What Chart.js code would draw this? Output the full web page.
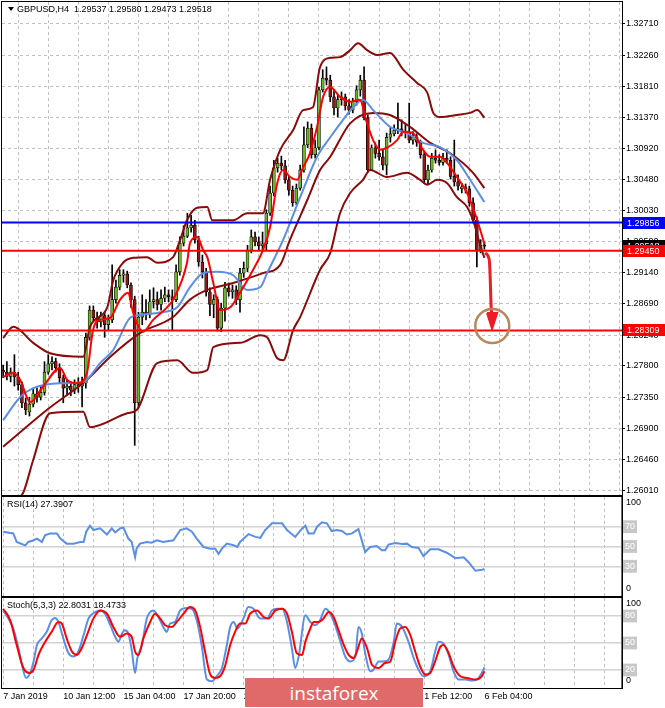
<!DOCTYPE html>
<html>
<head>
<meta charset="utf-8">
<script src="https://cdn.jsdelivr.net/npm/chart.js@4.4.1/dist/chart.umd.min.js"></script>
<style>
    html, body { margin: 0; padding: 0; background: #fff; }
    #wrap { position: relative; width: 665px; height: 708px; overflow: hidden; }
    canvas { position: absolute; left: 0; }
    #mark {
        position: absolute; left: 245px; top: 678px; width: 178px; height: 29px;
        background: #e06a6a; color: #fff; font: 19px 'Open Sans', sans-serif;
        display: flex; align-items: center; justify-content: center;
    }
</style>
</head>
<body>
<div id="wrap">
    <canvas id="priceChart" width="665" height="496" style="top:0"></canvas>
    <canvas id="rsiChart" width="665" height="101" style="top:496px"></canvas>
    <canvas id="stochChart" width="665" height="111" style="top:597px"></canvas>
    <div id="mark">instaforex</div>
</div>
<script>
// Velas H4 (indice 0 = 7 Jan 20:00, indice 128 = 6 Feb 04:00)
var open = [1.2774,1.2771,1.2765,1.2771,1.2764,1.2753,1.2727,1.2714,1.2725,1.2740,
    1.2735,1.2742,1.2771,1.2783,1.2786,1.2777,1.2763,1.2748,1.2751,1.2745,
    1.2753,1.2751,1.2755,1.2821,1.2860,1.2849,1.2843,1.2852,1.2839,1.2846,
    1.2875,1.2893,1.2910,1.2912,1.2896,1.2875,1.2727,1.2850,1.2857,1.2853,
    1.2872,1.2875,1.2868,1.2877,1.2882,1.2879,1.2875,1.2915,1.2956,1.2966,
    1.2978,1.2982,1.2961,1.2929,1.2915,1.2886,1.2868,1.2875,1.2834,1.2863,
    1.2892,1.2886,1.2889,1.2875,1.2913,1.2920,1.2946,1.2965,1.2958,1.2952,
    1.2955,1.2999,1.3028,1.3064,1.3071,1.3067,1.3047,1.3032,1.3014,1.3035,
    1.3061,1.3097,1.3121,1.3083,1.3093,1.3176,1.3193,1.3190,1.3166,1.3150,
    1.3162,1.3166,1.3153,1.3147,1.3159,1.3176,1.3190,1.3136,1.3061,1.3093,
    1.3085,1.3080,1.3068,1.3108,1.3113,1.3118,1.3120,1.3117,1.3114,1.3104,
    1.3108,1.3101,1.3083,1.3047,1.3061,1.3078,1.3075,1.3072,1.3078,1.3075,
    1.3052,1.3044,1.3034,1.3037,1.3034,1.3014,1.2989,1.2946,1.29537];
var high = [1.2781,1.2786,1.2777,1.2796,1.2771,1.2757,1.2734,1.2735,1.2748,1.2748,
    1.2751,1.2786,1.2796,1.2793,1.2791,1.2783,1.2767,1.2760,1.2757,1.2760,
    1.2763,1.2764,1.2827,1.2866,1.2866,1.2857,1.2857,1.2857,1.2853,1.2925,
    1.2903,1.2918,1.2918,1.2916,1.2899,1.2880,1.2857,1.2882,1.2875,1.2889,
    1.2892,1.2886,1.2889,1.2893,1.2889,1.2889,1.2925,1.2965,1.2981,1.2999,
    1.2996,1.2989,1.2966,1.2939,1.2920,1.2892,1.2882,1.2879,1.2870,1.2900,
    1.2899,1.2896,1.2895,1.2920,1.2929,1.2953,1.2975,1.2972,1.2965,1.2972,
    1.3004,1.3038,1.3075,1.3078,1.3081,1.3075,1.3052,1.3038,1.3041,1.3068,
    1.3123,1.3130,1.3127,1.3104,1.3180,1.3205,1.3209,1.3197,1.3176,1.3169,
    1.3173,1.3170,1.3162,1.3164,1.3182,1.3197,1.3209,1.3140,1.3097,1.3100,
    1.3104,1.3090,1.3114,1.3121,1.3126,1.3157,1.3133,1.3127,1.3157,1.3116,
    1.3113,1.3104,1.3087,1.3068,1.3085,1.3090,1.3083,1.3085,1.3090,1.3080,
    1.3104,1.3054,1.3042,1.3041,1.3038,1.3021,1.2994,1.2961,1.29580];
var low = [1.2763,1.2760,1.2757,1.2751,1.2745,1.2720,1.2710,1.2708,1.2721,1.2728,
    1.2731,1.2738,1.2768,1.2774,1.2771,1.2755,1.2727,1.2738,1.2737,1.2740,
    1.2742,1.2721,1.2748,1.2817,1.2843,1.2834,1.2836,1.2821,1.2831,1.2842,
    1.2870,1.2889,1.2900,1.2892,1.2864,1.2666,1.2720,1.2839,1.2846,1.2849,
    1.2863,1.2860,1.2860,1.2872,1.2872,1.2831,1.2872,1.2910,1.2952,1.2964,
    1.2972,1.2956,1.2923,1.2906,1.2880,1.2852,1.2849,1.2830,1.2829,1.2844,
    1.2880,1.2877,1.2868,1.2857,1.2907,1.2915,1.2942,1.2952,1.2946,1.2946,
    1.2946,1.2996,1.3024,1.3058,1.3061,1.3042,1.3025,1.3009,1.3011,1.3032,
    1.3058,1.3093,1.3078,1.3078,1.3090,1.3173,1.3183,1.3159,1.3140,1.3137,
    1.3154,1.3147,1.3141,1.3143,1.3154,1.3167,1.3133,1.3058,1.3061,1.3078,
    1.3075,1.3061,1.3054,1.3101,1.3110,1.3113,1.3110,1.3107,1.3100,1.3098,
    1.3095,1.3078,1.3042,1.3041,1.3058,1.3071,1.3068,1.3068,1.3071,1.3048,
    1.3038,1.3032,1.3028,1.3028,1.3009,1.2985,1.2922,1.2942,1.29473];
var close = [1.2771,1.2765,1.2771,1.2764,1.2753,1.2727,1.2717,1.2725,1.2740,1.2735,
    1.2742,1.2771,1.2783,1.2786,1.2777,1.2763,1.2748,1.2751,1.2745,1.2753,
    1.2751,1.2755,1.2821,1.2860,1.2849,1.2843,1.2852,1.2839,1.2846,1.2875,
    1.2893,1.2910,1.2912,1.2896,1.2875,1.2727,1.2850,1.2857,1.2853,1.2872,
    1.2875,1.2868,1.2877,1.2882,1.2879,1.2875,1.2915,1.2956,1.2966,1.2978,
    1.2982,1.2961,1.2929,1.2915,1.2886,1.2868,1.2875,1.2834,1.2863,1.2892,
    1.2886,1.2889,1.2875,1.2913,1.2920,1.2946,1.2965,1.2958,1.2952,1.2955,
    1.2999,1.3028,1.3064,1.3071,1.3067,1.3047,1.3032,1.3014,1.3035,1.3061,
    1.3097,1.3121,1.3083,1.3093,1.3176,1.3193,1.3190,1.3166,1.3150,1.3162,
    1.3166,1.3153,1.3147,1.3159,1.3176,1.3190,1.3136,1.3061,1.3093,1.3085,
    1.3080,1.3068,1.3108,1.3113,1.3118,1.3120,1.3117,1.3114,1.3104,1.3108,
    1.3101,1.3083,1.3047,1.3061,1.3078,1.3075,1.3072,1.3078,1.3075,1.3052,
    1.3044,1.3038,1.3037,1.3034,1.3014,1.2989,1.2946,1.2953,1.29518];

// Eixo de tempo: um rotulo a cada 16 velas
var timeBars = [0, 16, 32, 48, 64, 80, 96, 112, 128];
var timeLabels = ['7 Jan 2019', '10 Jan 12:00', '15 Jan 04:00', '17 Jan 20:00', '22 Jan 12:00',
    '25 Jan 04:00', '29 Jan 20:00', '1 Feb 12:00', '6 Feb 04:00'];
var priceTicks = [1.32710, 1.32260, 1.31810, 1.31370, 1.30920, 1.30480, 1.30030, 1.29590,
    1.29140, 1.28690, 1.28240, 1.27800, 1.27350, 1.26900, 1.26460, 1.26010];

// Bandas de Bollinger
var bbUpperX = [0,2.7,8,12.5,21.3,23.1,27.7,29.3,31.9,34.6,38.3,41,45.2,47.1,48.9,51.6,54.3,55.6,61.2,64.9,69.1,71,73.7,77.1,79.8,82.4,84.3,87,89.6,92.3,94.4,96.8,99.5,102.9,106.4,110.1,112.8,114.4,116.2,120.7,124.2,126.1,128];
var bbUpperY = [1.2820,1.2836,1.2813,1.2798,1.2793,1.2836,1.2864,1.2903,1.2928,1.2935,1.2936,1.2928,1.2936,1.2961,1.2989,1.3007,1.3008,1.2989,1.2989,1.2999,1.2999,1.3047,1.3090,1.3118,1.3147,1.3151,1.3209,1.3222,1.3223,1.3233,1.3243,1.3233,1.3226,1.3229,1.3205,1.3186,1.3172,1.3143,1.3137,1.3140,1.3143,1.3147,1.3136];
var bbMidX = [0,11.7,22.3,28.5,36.4,45.2,49.7,54.3,61.2,69.1,73.7,76.3,80.9,84.3,87,92.3,98.4,102.9,108.2,113.6,118.9,125,128];
var bbMidY = [1.2664,1.2717,1.2760,1.2793,1.2827,1.2850,1.2875,1.2889,1.2899,1.2913,1.2925,1.2961,1.3018,1.3061,1.3080,1.3128,1.3143,1.3140,1.3123,1.3100,1.3085,1.3057,1.3035];
var bbLowerX = [4,5.5,8,12.5,21.3,23.1,33,35.6,41,46.3,50.5,54.3,55.9,63,68.4,70.2,72.9,74.5,77.1,79,84.3,87,89.6,92.3,95.7,97.6,102.1,107.4,110.9,112.8,115.4,118.1,120.7,123.4,125,126.9,128];
var bbLowerY = [1.2588,1.2600,1.2645,1.2712,1.2714,1.2692,1.2712,1.2717,1.2784,1.2788,1.2770,1.2774,1.2807,1.2813,1.2824,1.2821,1.2791,1.2788,1.2831,1.2850,1.2918,1.2942,1.2999,1.3028,1.3047,1.3061,1.3051,1.3057,1.3047,1.3040,1.3047,1.3042,1.3022,1.3008,1.2989,1.2953,1.2935];

// Medias moveis
var slowMaX = [0,4.5,8,15.2,21.3,25.8,29.3,33.8,36.4,41,46.3,49.7,53.2,56.9,61.2,64.9,68.4,70.2,74.5,79,83.5,87,90.4,93.1,95.7,98.4,102.9,107.4,111.7,116.2,120.7,124.2,128];
var slowMaY = [1.2702,1.2735,1.2748,1.2755,1.2757,1.2784,1.2803,1.2849,1.2853,1.2856,1.2864,1.2893,1.2913,1.2915,1.2910,1.2889,1.2893,1.2913,1.2961,1.3022,1.3080,1.3108,1.3133,1.3151,1.3162,1.3147,1.3123,1.3114,1.3100,1.3094,1.3075,1.3047,1.3015];
var fastMaX = [0,2.7,4.5,7.2,10.6,15.2,17,19.7,22.3,23.9,25.8,28.5,31.1,33.2,34.6,37.2,39.9,43.6,45.2,48.9,49.7,51.6,53.2,54.3,55.9,57.7,60.4,63,66.5,69.1,71,72.9,74.5,76.3,78.2,79.8,81.6,83.5,85.1,87,89.6,92.3,94.9,96.5,98.4,100.3,102.1,104.8,106.4,109,111.7,113.6,116.2,118.1,120.7,123.4,126.1,128];
var fastMaY = [1.2764,1.2770,1.2760,1.2728,1.2750,1.2777,1.2760,1.2755,1.2770,1.2831,1.2846,1.2849,1.2875,1.2885,1.2856,1.2829,1.2846,1.2864,1.2875,1.2928,1.2956,1.2965,1.2946,1.2936,1.2899,1.2860,1.2864,1.2885,1.2918,1.2946,1.2979,1.3042,1.3061,1.3051,1.3047,1.3065,1.3085,1.3123,1.3166,1.3180,1.3166,1.3159,1.3162,1.3133,1.3104,1.3090,1.3093,1.3104,1.3116,1.3114,1.3090,1.3080,1.3080,1.3071,1.3051,1.3028,1.2989,1.2955];

// Niveis horizontais e preco atual
var levelValues = [1.29856, 1.29450, 1.28309];
var bidPrice = 1.29518;

// Seta de projecao e circulo do alvo
var arrowX = [128.2, 129.3, 129.5, 129.8, 130.0];
var arrowY = [1.2942, 1.2932, 1.2913, 1.2864, 1.2852];
var arrowHeadX = [128.7, 130.05, 131.4, 128.7];
var arrowHeadY = [1.28558, 1.28329, 1.28558, 1.28558];
var targetX = 130.1;
var targetY = 1.28372;

// RSI(14)
var rsiX = [0,2.7,3.6,5.9,6.7,8.1,9,10.3,11.2,12.5,14.3,15.2,16.9,18.7,20.5,21.4,22.1,23.1,24,25.8,27.6,28.9,29.8,31.1,32,33.3,34.2,35.1,35.5,36.4,38.2,39.5,40.9,42.6,45.3,47.1,48.8,50.2,51.5,53.3,55.1,56.4,57.3,58.2,59.5,61.3,62.3,63,65.3,67.1,68.4,69.7,71.5,74.2,75.5,77.7,79.5,80.4,81.2,82.6,83.5,84.8,86.1,87.4,88.8,90.1,91.4,92.8,94.5,96.3,97.6,99.4,100.7,101.6,102.5,104.3,106.1,107.4,108.7,110.5,111.8,113.6,115.8,118,120.3,122.5,123.8,125.6,127.4,128];
var rsiV = [64.9,63.2,54.6,51.2,54.6,56.3,58.0,54.6,61.5,63.2,63.2,58.0,52.9,52.9,54.6,54.6,64.9,71.0,66.6,68.3,62.1,68.3,64.2,68.3,69.0,58.0,54.6,39.2,47.8,52.9,54.6,53.9,56.3,54.6,56.3,66.6,68.3,64.9,58.0,49.5,47.8,47.8,42.6,47.8,52.9,51.2,49.5,54.6,62.5,59.7,58.7,66.6,73.4,73.4,66.6,59.7,68.3,71.0,63.2,63.2,70.0,74.4,73.4,65.6,66.6,65.6,62.1,63.2,67.6,44.4,49.5,50.5,46.1,46.1,51.9,53.6,52.6,52.9,49.5,48.5,40.2,47.1,47.1,43.7,38.2,39.2,34.1,25.5,26.6,27.4];

// Estocastico (5,3,3)
var stochKX = [0,1.4,2.7,4.1,5,6.1,7.2,8.1,9,10.3,11.6,12.9,13.8,14.7,16,17.4,18.7,20,21.4,22.7,24.5,25.8,27.1,28.5,29.8,30.7,31.6,32.4,33.3,34.2,35.1,35.7,36.9,38.2,40,41.3,42.6,43.5,44.4,45.7,47.1,48.8,50.2,51.5,52.8,54.2,55.5,56.8,58.2,59.5,60.4,61.3,62.3,63.9,65.2,66.6,68.4,70.2,71.5,72.8,74.2,75.5,76.8,77.7,78.6,80.4,81.7,83,84.3,85.7,87,88.3,89.7,91,92.3,93.7,94.5,95.4,96.3,97.6,98.5,99.9,101.2,102.5,103.9,104.7,106.1,107.8,109.2,110.5,111.8,113.6,114.9,115.8,117.1,118.5,119.8,121.1,122.9,124.7,126,127.3,128];
var stochKV = [86.2,77.1,66.1,44.1,25.8,11.2,16.7,29.5,47.8,55.1,62.4,75.2,77.8,73.4,55.1,38.6,35.0,40.5,58.8,77.1,84.4,86.2,82.6,69.8,56.9,51.5,60.6,64.3,60.6,42.3,16.7,33.2,47.8,77.1,86.2,78.9,67.9,62.4,71.6,73.4,86.2,88.8,88.1,75.2,47.8,9.4,7.5,13.0,22.2,47.8,67.9,73.4,66.1,77.1,89.9,88.1,77.1,77.1,86.2,88.1,88.1,73.4,44.1,22.2,35.0,80.7,73.4,69.8,75.2,88.1,82.6,69.8,51.5,35.0,29.5,35.0,67.9,60.6,38.6,18.5,20.3,29.5,29.5,31.3,51.5,71.6,67.9,51.5,33.2,20.3,13.0,18.5,40.5,51.5,49.6,36.8,18.5,9.4,9.4,8.3,9.4,16.7,22.8];
var stochDX = [0,1.9,3.6,5.4,7,8.1,9.4,11.2,12.9,14.7,15.6,16.9,18.3,19.6,20.9,22.3,24,25.8,27.6,29.3,31.1,32.9,34.2,35.1,36,37.3,39.1,40.4,41.8,43.1,44.9,46.2,48,49.7,51.1,52.4,53.7,55.1,56.4,57.7,59,60.4,61.7,63,64.4,65.7,67.5,69.3,70.6,72.4,74.2,75.5,76.8,78.1,79.5,80.4,81.7,82.6,83.9,85.2,86.6,87.9,89.2,90.6,91.9,93.2,94.1,95.4,96.8,98.1,99.9,101.6,103,104.3,105.6,107,108.3,109.6,110.9,112.3,113.6,114.9,116.3,117.1,118.5,119.8,121.6,123.4,125.6,127.3,128];
var stochDV = [88.1,75.2,47.8,22.2,16.7,20.3,36.8,51.5,62.4,73.4,71.6,55.1,40.5,36.8,44.1,58.8,77.1,86.2,82.6,67.9,56.9,60.6,56.9,40.5,36.8,55.1,73.4,82.6,77.1,69.8,67.9,73.4,82.6,89.9,86.2,67.9,40.5,14.9,11.2,13.0,24.0,47.8,62.4,71.6,71.6,82.6,86.2,78.9,77.1,86.2,88.1,82.6,62.4,38.6,36.8,51.5,66.1,73.4,73.4,77.1,84.4,78.9,64.3,47.8,36.8,33.2,40.5,55.1,44.1,25.8,22.2,27.7,29.5,51.5,66.1,67.9,58.8,40.5,24.0,14.9,16.7,29.5,46.0,47.8,38.6,24.0,13.0,11.2,9.4,13.0,18.5];

// ---------------------------------------------------------------
var X_MIN = -0.3, X_MAX = 164.6;
var FONTE = { family: "'Liberation Sans', Arial, sans-serif", size: 9 };
var CINZA_GRADE = '#c0c0c0';

function pts(xs, ys) {
    return xs.map(function (x, i) { return { x: x, y: ys[i] }; });
}

// linhas verticais da grade a cada 8 velas
function gradeVertical(scale) {
    scale.ticks = [];
    for (var b = 0; b <= 160; b += 8) scale.ticks.push({ value: b });
}

// eixo vertical da direita com largura fixa e sem folga extra
function eixoDireitoFixo(s) {
    s.width = 43;
    s.paddingTop = 0;
    s.paddingBottom = 0;
}

function eixoX(comRotulos) {
    return {
        type: 'linear', min: X_MIN, max: X_MAX, offset: false,
        afterBuildTicks: gradeVertical,
        afterFit: function (s) {
            s.height = comRotulos ? 20 : 0;
            s.paddingLeft = 0;
            s.paddingRight = 0;
        },
        grid: { color: CINZA_GRADE, drawTicks: false },
        border: { display: false, dash: [3, 3] },
        ticks: {
            display: comRotulos, autoSkip: false, maxRotation: 0, minRotation: 0,
            align: 'start', padding: 3, color: '#000', font: FONTE,
            callback: function (v) {
                var k = timeBars.indexOf(v);
                return k >= 0 ? timeLabels[k] : '';
            }
        }
    };
}

function eixoOsc(niveis) {
    return {
        position: 'right', min: 0, max: 100,
        afterBuildTicks: function (s) { s.ticks = niveis.map(function (v) { return { value: v }; }); },
        afterFit: eixoDireitoFixo,
        grid: { color: '#d2d2d2', lineWidth: 1.5, drawTicks: false },
        border: { display: true, color: '#6e6e6e', width: 1.5 },
        ticks: {
            padding: 3, color: '#ffffff', font: FONTE,
            showLabelBackdrop: true, backdropColor: '#c8c8c8', backdropPadding: { x: 2, y: 1 }
        }
    };
}

function moldura(chart) {
    var c = chart.ctx, a = chart.chartArea;
    c.save();
    c.strokeStyle = '#000';
    c.lineWidth = 1;
    c.strokeRect(a.left - 0.5, a.top - 0.5, a.right - a.left + 1, a.bottom - a.top + 1);
    c.restore();
}

function textoOsc(titulo) {
    return {
        id: 'textoOsc',
        afterDraw: function (chart) {
            var c = chart.ctx, a = chart.chartArea;
            moldura(chart);
            c.save();
            c.font = '9px ' + FONTE.family;
            c.fillStyle = '#000';
            c.textBaseline = 'middle';
            c.fillText(titulo, a.left + 5, a.top + 7.5);
            c.fillText('100', a.right + 4, a.top + 6);
            c.fillText('0', a.right + 4, a.bottom - 7);
            c.restore();
        }
    };
}

// caixas de preco no eixo da direita
function caixaPreco(chart, valor, cor) {
    var c = chart.ctx, a = chart.chartArea;
    var y = chart.scales.y.getPixelForValue(valor);
    c.fillStyle = cor;
    c.fillRect(a.right + 1, Math.round(y) - 6, chart.width - a.right - 1, 12);
    c.fillStyle = '#fff';
    c.fillText(valor.toFixed(5), a.right + 5, Math.round(y) + 0.5);
}

var textoPreco = {
    id: 'textoPreco',
    afterDraw: function (chart) {
        var c = chart.ctx, a = chart.chartArea;
        var n = close.length - 1;
        moldura(chart);
        c.save();
        c.font = '9px ' + FONTE.family;
        c.textBaseline = 'middle';
        // titulo com OHLC da ultima vela
        c.fillStyle = '#000';
        c.beginPath();
        c.moveTo(a.left + 6, a.top + 5);
        c.lineTo(a.left + 12, a.top + 5);
        c.lineTo(a.left + 9, a.top + 9);
        c.closePath();
        c.fill();
        c.fillText('GBPUSD,H4  ' + [open[n], high[n], low[n], close[n]].map(function (v) {
            return v.toFixed(5);
        }).join(' '), a.left + 15, a.top + 8);
        caixaPreco(chart, bidPrice, '#000');
        caixaPreco(chart, levelValues[0], '#0000ff');
        caixaPreco(chart, levelValues[1], '#ff0000');
        caixaPreco(chart, levelValues[2], '#ff0000');
        c.restore();
    }
};

function linha(dados, cor, largura, ordem) {
    return {
        type: 'line', data: dados, borderColor: cor, borderWidth: largura,
        pointRadius: 0, pointHoverRadius: 0, fill: false, order: ordem, cubicInterpolationMode: 'monotone'
    };
}

function nivel(valor, cor) {
    return linha([{ x: X_MIN, y: valor }, { x: X_MAX, y: valor }], cor, 2, 2);
}

var wicks = close.map(function (c, i) { return { x: i, y: [low[i], high[i]] }; });
var bodies = close.map(function (c, i) { return { x: i, y: [open[i], c] }; });

// GRAFICO PRINCIPAL
new Chart(document.getElementById('priceChart').getContext('2d'), {
    type: 'bar',
    data: {
        datasets: [
            { data: wicks, backgroundColor: '#000', barThickness: 1, grouped: false, order: 10 },
            {
                data: bodies, barThickness: 3, grouped: false, order: 9, minBarLength: 1,
                borderColor: '#000', borderWidth: 0.7, borderSkipped: false,
                backgroundColor: function (ctx) {
                    var i = ctx.dataIndex;
                    return close[i] >= open[i] ? '#6fb52c' : '#9a1414';
                }
            },
            linha(pts(bbUpperX, bbUpperY), '#8b0a0a', 2, 5),
            linha(pts(bbMidX, bbMidY), '#8b0a0a', 2, 5),
            linha(pts(bbLowerX, bbLowerY), '#8b0a0a', 2, 5),
            linha(pts(slowMaX, slowMaY), '#5b8ee6', 2, 4),
            linha(pts(fastMaX, fastMaY), '#ff0000', 2, 3),
            nivel(levelValues[0], '#0000ff'),
            nivel(levelValues[1], '#ff0000'),
            nivel(levelValues[2], '#ff0000'),
            linha(pts(arrowX, arrowY), '#ee1c24', 3, 1),
            {
                type: 'line', data: pts(arrowHeadX, arrowHeadY), borderColor: '#ee1c24', borderWidth: 2,
                backgroundColor: '#ee1c24', fill: 'shape', pointRadius: 0, tension: 0, order: 1
            },
            {
                type: 'line', data: [{ x: targetX, y: targetY }], showLine: false, order: 0,
                pointRadius: 17, pointBorderWidth: 2.5, pointBorderColor: '#b8855c',
                pointBackgroundColor: 'rgba(0,0,0,0)'
            }
        ]
    },
    options: {
        responsive: false, animation: false,
        layout: { autoPadding: false, padding: { left: 2, top: 2, right: 0, bottom: 1 } },
        plugins: { legend: { display: false }, tooltip: { enabled: false } },
        scales: {
            x: eixoX(false),
            y: {
                position: 'right', min: 1.25947, max: 1.33021,
                afterBuildTicks: function (s) { s.ticks = priceTicks.map(function (v) { return { value: v }; }); },
                afterFit: eixoDireitoFixo,
                grid: { color: CINZA_GRADE, tickLength: 3, tickColor: '#000', tickBorderDash: [] },
                border: { display: true, color: '#000', width: 1, dash: [3, 3] },
                ticks: {
                    padding: 1, color: '#000', font: FONTE,
                    callback: function (v) { return v.toFixed(5); }
                }
            }
        }
    },
    plugins: [textoPreco]
});

// RSI
new Chart(document.getElementById('rsiChart').getContext('2d'), {
    type: 'line',
    data: { datasets: [{ data: pts(rsiX, rsiV), borderColor: '#5b8ee6', borderWidth: 2, pointRadius: 0, pointHoverRadius: 0, tension: 0 }] },
    options: {
        responsive: false, animation: false,
        layout: { autoPadding: false, padding: { left: 2, top: 1, right: 0, bottom: 1 } },
        plugins: { legend: { display: false }, tooltip: { enabled: false } },
        scales: { x: eixoX(false), y: eixoOsc([30, 50, 70]) }
    },
    plugins: [textoOsc('RSI(14) 27.3907')]
});

// ESTOCASTICO
new Chart(document.getElementById('stochChart').getContext('2d'), {
    type: 'line',
    data: {
        datasets: [
            { data: pts(stochDX, stochDV), borderColor: '#ff0000', borderWidth: 2, pointRadius: 0, pointHoverRadius: 0, cubicInterpolationMode: 'monotone' },
            { data: pts(stochKX, stochKV), borderColor: '#5b8ee6', borderWidth: 2, pointRadius: 0, pointHoverRadius: 0, cubicInterpolationMode: 'monotone', order: 1 }
        ]
    },
    options: {
        responsive: false, animation: false,
        layout: { autoPadding: false, padding: { left: 2, top: 1, right: 0, bottom: 0 } },
        plugins: { legend: { display: false }, tooltip: { enabled: false } },
        scales: { x: eixoX(true), y: eixoOsc([20, 50, 80]) }
    },
    plugins: [textoOsc('Stoch(5,3,3) 22.8031 18.4733')]
});
</script>
</body>
</html>
